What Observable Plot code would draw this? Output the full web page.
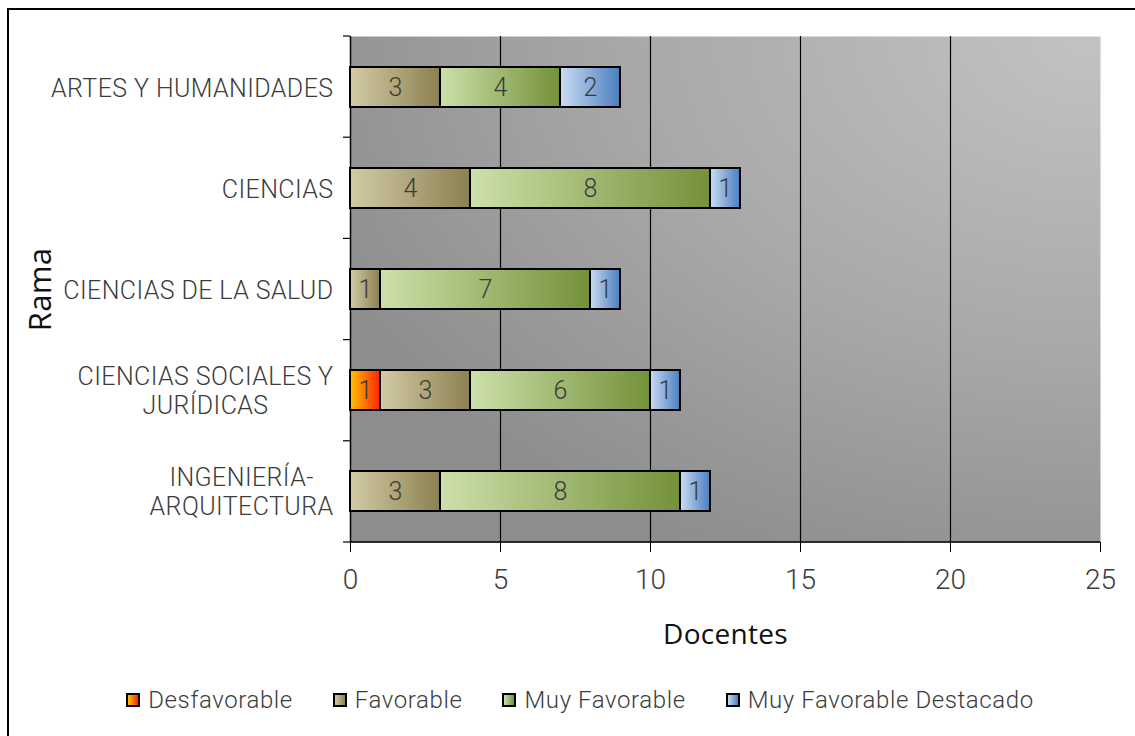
<!DOCTYPE html>
<html><head><meta charset="utf-8">
<script src="https://cdn.jsdelivr.net/npm/d3@7"></script>
<script src="https://cdn.jsdelivr.net/npm/@observablehq/plot@0.6"></script>
<style>
html,body{margin:0;padding:0;background:#fff;overflow:hidden;width:1135px;height:736px;}
#frame{position:absolute;left:7px;top:8px;width:1200px;height:800px;border:2px solid #000;box-sizing:border-box;}
#chart{position:absolute;left:0;top:0;}
#legend{position:absolute;left:0;top:686px;width:1160px;display:flex;justify-content:center;gap:40px;font-family:Roboto,sans-serif;font-weight:300;font-size:24px;letter-spacing:0.6px;color:#3c3c3c;}
.item{display:flex;align-items:center;gap:8px;}
.sw{width:10px;height:10px;border:2px solid #000;}
</style>
</head><body>
<div id="frame"></div>
<div id="chart"></div>
<div id="legend"></div>
<script>
// ---- data ----
const ramas = ["ARTES Y HUMANIDADES","CIENCIAS","CIENCIAS DE LA SALUD","CIENCIAS SOCIALES Y JURÍDICAS","INGENIERÍA-ARQUITECTURA"];
const ramaLabels = ["ARTES Y HUMANIDADES","CIENCIAS","CIENCIAS DE LA SALUD","CIENCIAS SOCIALES Y\nJURÍDICAS","INGENIERÍA-\nARQUITECTURA"];
const niveles = ["Desfavorable","Favorable","Muy Favorable","Muy Favorable Destacado"];
const desfavorable = [0,0,0,1,0];
const favorable = [3,4,1,3,3];
const muyFavorable = [4,8,7,6,8];
const destacado = [2,1,1,1,1];
const xTicks = [0,5,10,15,20,25];

// ---- styles ----
const gradStops = [["#ffc400","#ff2400"],["#d3cba6","#8b8150"],["#cde0aa","#74913a"],["#cbdcf3","#4a7fc0"]];
const LABEL_FONT = "Roboto, sans-serif";
const TITLE_FONT = "'Open Sans', sans-serif";

const series = [desfavorable, favorable, muyFavorable, destacado];
const rows = [];
ramas.forEach((r, i) => niveles.forEach((n, j) => {
  if (series[j][i] > 0) rows.push({rama: r, nivel: n, value: series[j][i]});
}));

const W = 1135, H = 660, mL = 350, mR = 35, mT = 36, mB = 118;

const svg = Plot.plot({
  width: W, height: H, marginLeft: mL, marginRight: mR, marginTop: mT, marginBottom: mB,
  style: {fontFamily: LABEL_FONT, fontWeight: 300, fontSize: "24px", color: "#3c3c3c", background: "transparent", overflow: "visible"},
  x: {domain: [0, 25]},
  y: {domain: ramas, paddingInner: 0.6, paddingOuter: 0.3},
  color: {domain: niveles, range: niveles.map((d, i) => `url(#grad${i})`)},
  marks: [
    Plot.frame({fill: "url(#bgGrad)", stroke: null}),
    Plot.ruleX(xTicks.filter(t => t > 0 && t < 25), {stroke: "#000", strokeWidth: 1.2}),
    Plot.ruleX([0], {stroke: "#000", strokeWidth: 1.5}),
    Plot.barX(rows, Plot.stackX({x: "value", y: "rama", fill: "nivel", order: niveles, stroke: "#000", strokeWidth: 2})),
    Plot.text(rows, Plot.stackX({x: "value", y: "rama", z: "nivel", order: niveles, text: d => String(d.value), fill: "#3a3a3a", fontSize: 25, fontWeight: 300})),
    Plot.axisX({ticks: xTicks, tickSize: 10, tickPadding: 17, stroke: "#000", fontSize: 28, label: "Docentes", labelAnchor: "center", labelOffset: 101}),
    Plot.axisY({tickSize: 0, tickPadding: 17, tickFormat: d => ramaLabels[ramas.indexOf(d)], fontSize: 25, lineHeight: 1.17, label: "Rama", labelAnchor: "center", labelOffset: 322})
  ]
});

document.getElementById("chart").appendChild(svg);
const s = d3.select(svg);

// gradients
const defs = s.insert("defs", ":first-child");
const bg = defs.append("radialGradient").attr("id", "bgGrad").attr("cx", 1).attr("cy", 0).attr("r", 1.15).attr("fx", 1).attr("fy", 0);
bg.append("stop").attr("offset", 0).attr("stop-color", "#c3c3c3");
bg.append("stop").attr("offset", 0.55).attr("stop-color", "#a8a8a8");
bg.append("stop").attr("offset", 1).attr("stop-color", "#8d8d8d");
gradStops.forEach((g, i) => {
  const lg = defs.append("linearGradient").attr("id", `grad${i}`).attr("x1", 0).attr("x2", 1).attr("y1", 0).attr("y2", 0);
  lg.append("stop").attr("offset", 0).attr("stop-color", g[0]);
  lg.append("stop").attr("offset", 1).attr("stop-color", g[1]);
});

// axis lines and category boundary ticks
const plotH = H - mT - mB;
const deco = s.append("g").attr("stroke", "#000");
deco.append("line").attr("x1", mL).attr("x2", W - mR).attr("y1", H - mB).attr("y2", H - mB).attr("stroke-width", 1.5);
d3.range(ramas.length + 1).forEach(i => {
  const y = mT + i * plotH / ramas.length;
  deco.append("line").attr("x1", mL - 7).attr("x2", mL).attr("y1", y).attr("y2", y).attr("stroke-width", 1.2);
});

// category labels letter spacing
s.selectAll('g[aria-label="y-axis tick label"] text').style("letter-spacing", "0.4px");

// axis titles (no arrows)
s.selectAll('g[aria-label="x-axis label"] text').text("Docentes");
s.selectAll('g[aria-label="y-axis label"] text').text("Rama");
s.selectAll('g[aria-label="x-axis label"] text, g[aria-label="y-axis label"] text')
  .style("font-family", TITLE_FONT).style("font-weight", 400).style("letter-spacing", "0.3px").attr("fill", "#111");
s.selectAll('g[aria-label="x-axis label"] text').style("font-size", "28px");
s.selectAll('g[aria-label="y-axis label"] text').style("font-size", "31px");

// center multi-line category labels as a block, right aligned
s.selectAll('g[aria-label="y-axis tick label"] text').each(function() {
  const tspans = this.querySelectorAll("tspan");
  if (tspans.length > 1) {
    let maxW = 0;
    tspans.forEach(t => { maxW = Math.max(maxW, t.getComputedTextLength()); });
    this.setAttribute("text-anchor", "middle");
    tspans.forEach(t => t.setAttribute("x", -maxW / 2));
  }
});

// legend
const leg = d3.select("#legend");
niveles.forEach((n, i) => {
  const it = leg.append("div").attr("class", "item");
  it.append("div").attr("class", "sw").style("background", `linear-gradient(to right, ${gradStops[i][0]}, ${gradStops[i][1]})`);
  it.append("span").text(n);
});
</script>
</body></html>
